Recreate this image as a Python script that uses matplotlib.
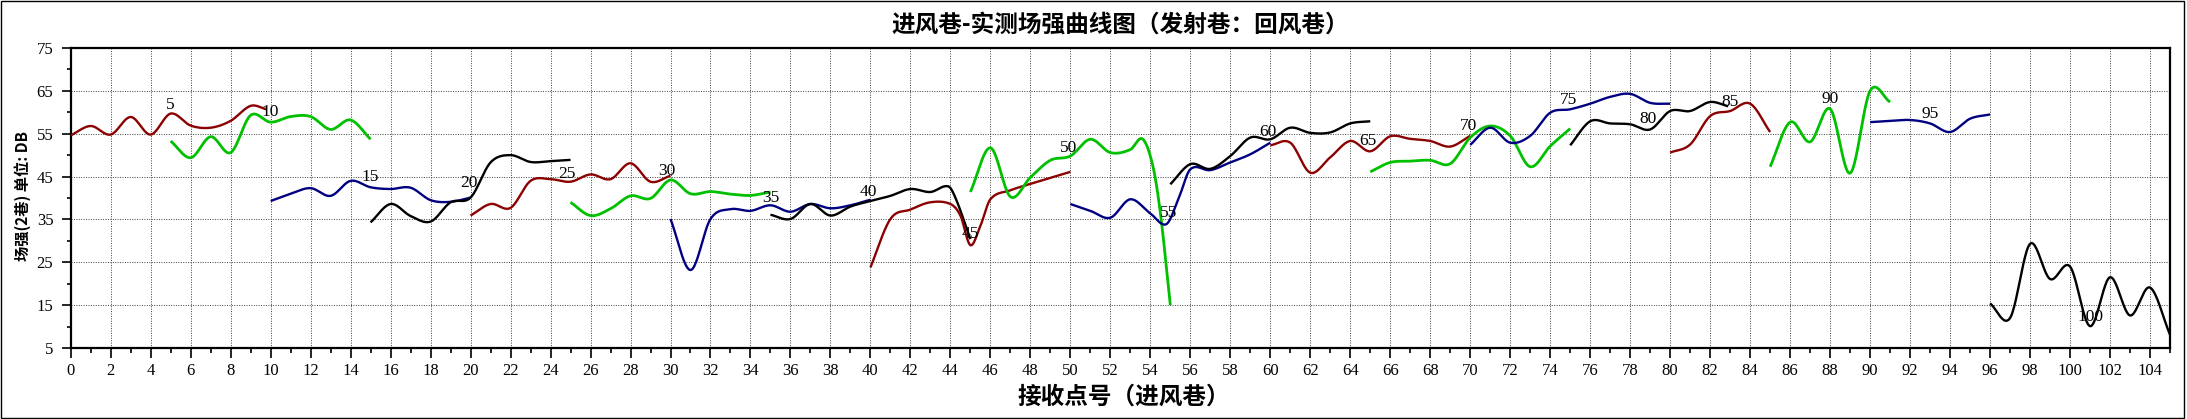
import numpy as np
import matplotlib
matplotlib.use("Agg")
import matplotlib.pyplot as plt
from matplotlib.patches import Rectangle
from matplotlib.ticker import MultipleLocator

# ---------------- data ----------------
title = "进风巷-实测场强曲线图（发射巷：回风巷）"
xlabel = "接收点号（进风巷）"
ylabel = "场强(2巷) 单位: DB"

c_red, c_green, c_navy, c_black = "#8b0000", "#00c000", "#000080", "#000000"

seg01_x = [0, 1, 2, 3, 4, 5, 6, 7, 8, 9, 9.8]
seg01_y = [54.6, 56.8, 54.8, 58.9, 54.8, 59.7, 56.9, 56.4, 58.0, 61.5, 60.7]
seg02_x = [5, 6, 7, 8, 9, 10, 11, 12, 13, 14, 15]
seg02_y = [53.3, 49.4, 54.3, 50.6, 59.3, 57.7, 59.0, 59.0, 56.0, 58.2, 53.7]
seg03_x = [10, 11, 12, 13, 14, 15, 16, 17, 18, 19, 20]
seg03_y = [39.3, 41.0, 42.3, 40.5, 44.0, 42.5, 42.1, 42.4, 39.5, 39.1, 40.1]
seg04_x = [15, 16, 17, 18, 19, 20, 21, 22, 23, 24, 25]
seg04_y = [34.3, 38.6, 35.8, 34.5, 39.0, 40.1, 48.3, 50.0, 48.4, 48.6, 48.9]
seg05_x = [20, 21, 22, 23, 24, 25, 26, 27, 28, 29, 30]
seg05_y = [35.9, 38.6, 37.7, 44.0, 44.4, 43.8, 45.5, 44.4, 48.1, 43.8, 45.2]
seg06_x = [25, 26, 27, 28, 29, 30, 31, 32, 33, 34, 35]
seg06_y = [39.0, 35.9, 37.5, 40.5, 39.9, 44.2, 41.0, 41.5, 40.9, 40.6, 41.4]
seg07_x = [30, 31, 32, 33, 34, 35, 36, 37, 38, 39, 40]
seg07_y = [35.1, 23.2, 35.1, 37.4, 37.0, 38.3, 36.8, 38.6, 37.6, 38.3, 39.6]
seg08_x = [35, 36, 37, 38, 39, 40, 41, 42, 43, 43.9, 44.3, 45]
seg08_y = [36.1, 35.1, 38.6, 35.9, 38.0, 39.3, 40.5, 42.1, 41.4, 42.7, 39.5, 30.4]
seg09_x = [40, 41, 42, 43, 44, 44.5, 45, 45.5, 46, 47, 48, 49, 50]
seg09_y = [23.8, 35.1, 37.3, 39.0, 38.6, 35.9, 29.0, 33.5, 39.7, 41.8, 43.3, 44.7, 46.1]
seg10_x = [45, 46, 47, 48, 49, 50, 51, 52, 53, 53.6, 54.1, 54.5, 55]
seg10_y = [41.4, 51.7, 40.3, 44.8, 48.8, 49.8, 53.7, 50.6, 51.3, 53.8, 48.0, 36.6, 15.0]
seg11_x = [50, 51, 52, 53, 54, 54.8, 55.4, 56, 57, 58, 59, 60]
seg11_y = [38.6, 37.0, 35.4, 39.7, 36.4, 33.9, 39.7, 46.7, 46.5, 48.3, 50.2, 52.9]
seg12_x = [55, 56, 57, 58, 59, 60, 61, 62, 63, 64, 65]
seg12_y = [43.2, 47.9, 46.8, 49.8, 54.1, 53.7, 56.4, 55.2, 55.3, 57.4, 57.9]
seg13_x = [60, 61, 62, 63, 64, 65, 66, 67, 68, 69, 70]
seg13_y = [52.3, 52.9, 45.9, 49.5, 53.3, 50.9, 54.4, 53.8, 53.3, 52.0, 54.5]
seg14_x = [65, 66, 67, 68, 69, 70, 71, 72, 73, 74, 75]
seg14_y = [46.1, 48.3, 48.6, 48.8, 48.0, 54.1, 56.8, 54.5, 47.3, 52.1, 56.2]
seg15_x = [70, 71, 72, 73, 74, 75, 76, 77, 78, 79, 80]
seg15_y = [52.4, 56.4, 52.9, 54.5, 59.9, 60.7, 62.0, 63.6, 64.3, 62.2, 62.0]
seg16_x = [75, 76, 77, 78, 79, 80, 81, 82, 82.9]
seg16_y = [52.3, 57.9, 57.4, 57.2, 56.0, 60.3, 60.3, 62.4, 61.4]
seg17_x = [80, 81, 82, 83, 84, 85]
seg17_y = [50.6, 52.5, 59.1, 60.3, 62.0, 55.4]
seg18_x = [85, 86, 87, 88, 89, 90, 91]
seg18_y = [47.3, 57.7, 53.1, 60.8, 45.8, 65.0, 62.4]
seg19_x = [90, 91, 92, 93, 94, 95, 96]
seg19_y = [57.7, 58.0, 58.2, 57.4, 55.4, 58.5, 59.5]
seg20_x = [96, 97, 98, 99, 100, 101, 102, 103, 104, 105]
seg20_y = [15.4, 12.0, 29.3, 21.1, 24.0, 10.1, 21.5, 12.6, 19.1, 8.1]

segments = [
    (seg01_x, seg01_y, c_red), (seg02_x, seg02_y, c_green),
    (seg03_x, seg03_y, c_navy), (seg04_x, seg04_y, c_black),
    (seg05_x, seg05_y, c_red), (seg06_x, seg06_y, c_green),
    (seg07_x, seg07_y, c_navy), (seg08_x, seg08_y, c_black),
    (seg09_x, seg09_y, c_red), (seg10_x, seg10_y, c_green),
    (seg11_x, seg11_y, c_navy), (seg12_x, seg12_y, c_black),
    (seg13_x, seg13_y, c_red), (seg14_x, seg14_y, c_green),
    (seg15_x, seg15_y, c_navy), (seg16_x, seg16_y, c_black),
    (seg17_x, seg17_y, c_red), (seg18_x, seg18_y, c_green),
    (seg19_x, seg19_y, c_navy), (seg20_x, seg20_y, c_black),
]

point_labels = ["5", "10", "15", "20", "25", "30", "35", "40", "45", "50",
                "55", "60", "65", "70", "75", "80", "85", "90", "95", "100"]
label_x = [5.0, 10.0, 15.0, 19.9, 24.8, 29.8, 35.0, 39.9, 45.0, 49.9,
           54.9, 59.9, 64.9, 69.9, 74.9, 78.9, 83.0, 88.0, 93.0, 101.0]
label_y = [61.6, 60.0, 44.8, 43.4, 45.7, 46.3, 40.1, 41.3, 31.6, 51.7,
           36.6, 55.4, 53.3, 56.8, 62.8, 58.5, 62.4, 63.0, 59.7, 12.3]

xticks = list(range(0, 105, 2))
yticks = list(range(5, 76, 10))


def smooth(xs, ys, n=24):
    xs = np.asarray(xs, float)
    ys = np.asarray(ys, float)
    m = np.empty_like(ys)
    m[1:-1] = (ys[2:] - ys[:-2]) / (xs[2:] - xs[:-2])
    m[0] = (ys[1] - ys[0]) / (xs[1] - xs[0])
    m[-1] = (ys[-1] - ys[-2]) / (xs[-1] - xs[-2])
    ox, oy = [], []
    t = np.linspace(0, 1, n, endpoint=False)
    h00 = 2 * t**3 - 3 * t**2 + 1
    h10 = t**3 - 2 * t**2 + t
    h01 = -2 * t**3 + 3 * t**2
    h11 = t**3 - t**2
    for i in range(len(xs) - 1):
        h = xs[i + 1] - xs[i]
        ox.append(xs[i] + t * h)
        oy.append(h00 * ys[i] + h10 * h * m[i] + h01 * ys[i + 1] + h11 * h * m[i + 1])
    ox.append([xs[-1]])
    oy.append([ys[-1]])
    return np.concatenate(ox), np.concatenate(oy)


cjk = ["Noto Sans CJK SC", "DejaVu Sans"]
num_font = "Liberation Serif"

fig = plt.figure(figsize=(21.87, 4.19), dpi=100)
ax = fig.add_axes([70.7 / 2187, 1 - 348 / 419, (2170 - 70.7) / 2187, (348 - 48) / 419])

for xs, ys, col in segments:
    sx, sy = smooth(xs, ys)
    lw = 2.0 if col == c_green else 1.7
    ax.plot(sx, sy, color=col, lw=lw, solid_capstyle="butt", zorder=3)

for txt, lx, ly in zip(point_labels, label_x, label_y):
    ax.text(lx, ly, txt, ha="center", va="center", fontsize=12.5,
            family=num_font, color="black", zorder=4)

ax.set_xlim(0, 105)
ax.set_ylim(5, 75)
ax.set_xticks(xticks)
ax.set_yticks(yticks)
ax.xaxis.set_minor_locator(MultipleLocator(1))
ax.yaxis.set_minor_locator(MultipleLocator(5))
ax.tick_params(axis="both", which="major", direction="out", width=1.2,
               color="black", labelsize=12)
ax.tick_params(axis="x", which="major", length=7.5, pad=3)
ax.tick_params(axis="y", which="major", length=6.5, pad=6)
ax.tick_params(axis="x", which="minor", length=3.8, width=1.2)
ax.tick_params(axis="y", which="minor", length=3.0, width=1.2)
for lab in ax.get_xticklabels() + ax.get_yticklabels():
    lab.set_family(num_font)

ax.grid(True, which="major", color="#404040", lw=0.7, ls=(0, (1, 1.5)), zorder=1)
for sp in ax.spines.values():
    sp.set_linewidth(1.6)
    sp.set_color("black")

fig.text(0.5123, 0.940, title, ha="center", va="center", fontsize=17,
         fontweight="bold", family=cjk)
fig.text(0.514, 1 - 397 / 419, xlabel, ha="center", va="center", fontsize=17,
         fontweight="bold", family=cjk)
fig.text(23 / 2187, 1 - 196 / 419, ylabel, ha="center", va="center", fontsize=11,
         fontweight="bold", rotation=90, family=cjk)

fig.patches.append(Rectangle((0.0005, 0.002), 0.998, 0.996, transform=fig.transFigure,
                             fill=False, ec="black", lw=1.0))

fig.savefig("out.png", dpi=100, facecolor="white")
